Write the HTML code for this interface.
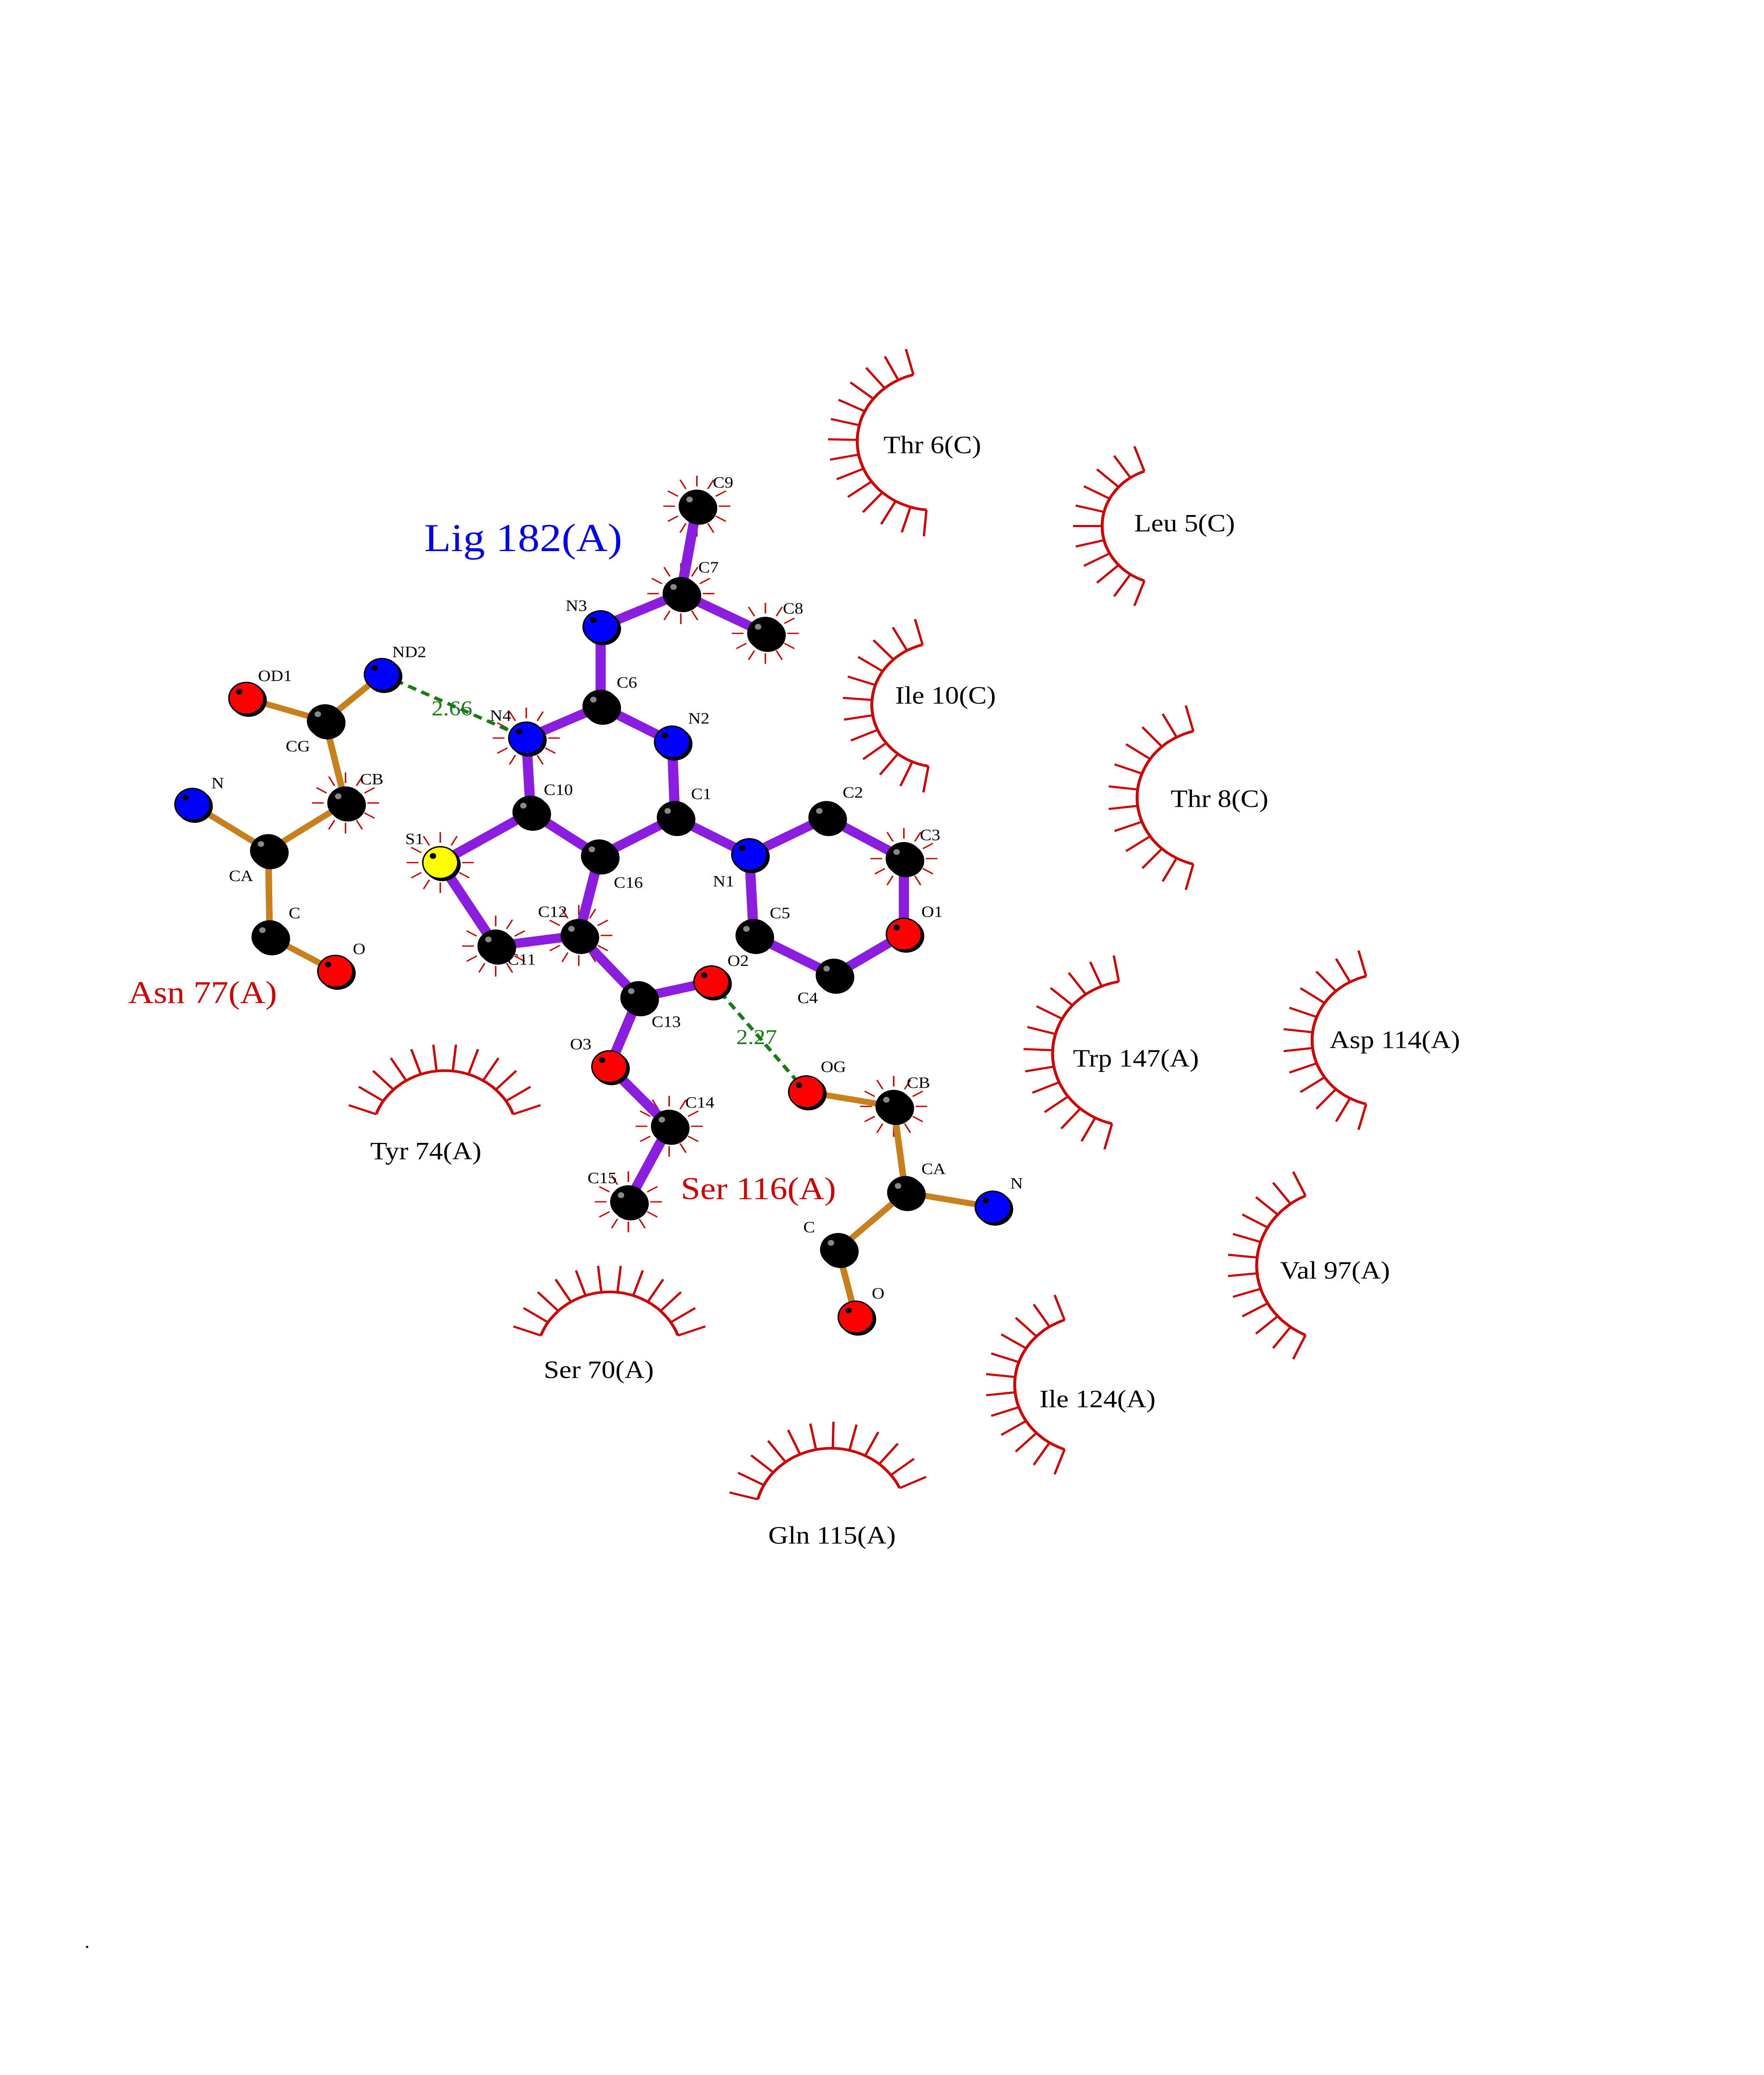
<!DOCTYPE html>
<html><head><meta charset="utf-8"><style>
html,body{margin:0;padding:0;background:#fff;width:100%;height:100%;overflow:hidden}
svg{display:block;position:fixed;left:0;top:0;width:100vw;height:100vh}
text{font-family:"Liberation Serif",serif}
</style></head><body>
<svg id="s" xmlns="http://www.w3.org/2000/svg" viewBox="0 0 1210 1566" preserveAspectRatio="none">
<rect width="1210" height="1566" fill="#fff"/>
<g id="arcs" stroke="#d00000" stroke-width="1.6" fill="none"></g>
<g id="hb" stroke="#1a7a1a" stroke-width="2.5" stroke-dasharray="6,4"></g>
<g id="bonds" stroke-linecap="round"></g>
<g id="atoms"></g>
<g id="labels" font-size="12" fill="#000"></g>
<text x="291" y="416" font-size="30" fill="#0000ee">Lig 182(A)</text>
<text x="88" y="757" font-size="24" fill="#d00000">Asn 77(A)</text>
<text x="467" y="905" font-size="24" fill="#d00000">Ser 116(A)</text>
<text x="296" y="540" font-size="16" fill="#1a7a1a">2.66</text>
<text x="505" y="788" font-size="16" fill="#1a7a1a">2.27</text>
<g font-size="19" fill="#000">
<text x="606" y="342">Thr 6(C)</text>
<text x="778" y="401">Leu 5(C)</text>
<text x="614" y="531">Ile 10(C)</text>
<text x="803" y="609">Thr 8(C)</text>
<text x="736" y="805">Trp 147(A)</text>
<text x="912" y="791">Asp 114(A)</text>
<text x="878" y="965">Val 97(A)</text>
<text x="713" y="1062">Ile 124(A)</text>
<text x="254" y="875">Tyr 74(A)</text>
<text x="373" y="1040">Ser 70(A)</text>
<text x="527" y="1165">Gln 115(A)</text>
</g>
<text x="58" y="1470" font-size="14">.</text>
</svg>
<script>
var NS="http://www.w3.org/2000/svg";
function el(p,t,a){var e=document.createElementNS(NS,t);for(var k in a)e.setAttribute(k,a[k]);document.getElementById(p).appendChild(e);return e;}
var A={C9:[478,382,'k'],C7:[467,448,'k'],C8:[525,478,'k'],N3:[412,473,'b'],C6:[412,533,'k'],N4:[361,557,'b'],N2:[461,560,'b'],C10:[364,613,'k'],C1:[463,617,'k'],C16:[411,646,'k'],S1:[302,651,'y'],N1:[514,645,'b'],C2:[567,617,'k'],C3:[620,648,'k'],O1:[620,705,'r'],C4:[572,736,'k'],C5:[517,706,'k'],C11:[340,714,'k'],C12:[397,706,'k'],C13:[438,753,'k'],O2:[488,741,'r'],O3:[418,805,'r'],C14:[459,850,'k'],C15:[431,907,'k'],
aND2:[262,509,'b'],aOD1:[169,527,'r'],aCG:[223,544,'k'],aCB:[237,606,'k'],aCA:[184,642,'k'],aN:[132,607,'b'],aC:[185,707,'k'],aO:[230,733,'r'],
sOG:[553,824,'r'],sCB:[613,835,'k'],sCA:[621,900,'k'],sN:[681,911,'b'],sC:[575,943,'k'],sO:[587,994,'r']};
var LB=[['C9',489,368],['C7',479,432],['C8',537,463],['N3',388,461],['C6',423,519],['N4',336,544],['N2',472,546],['C10',373,600],['C1',474,603],['C16',421,670],['S1',278,637],['N1',489,669],['C2',578,602],['C3',631,634],['O1',632,692],['C4',547,757],['C5',528,693],['C11',348,728],['C12',369,692],['C13',447,775],['O2',499,729],['O3',391,792],['C14',470,836],['C15',403,893],
['ND2',269,496],['OD1',177,514],['CG',196,567],['CB',247,592],['CA',157,665],['N',145,595],['C',198,693],['O',242,720],['OG',563,809],['CB',622,821],['CA',632,886],['N',693,897],['C',551,930],['O',598,980]];
var LIG=[['C9','C7'],['C7','C8'],['C7','N3'],['N3','C6'],['C6','N4'],['C6','N2'],['N4','C10'],['N2','C1'],['C10','C16'],['C1','C16'],['C10','S1'],['S1','C11'],['C11','C12'],['C12','C16'],['C1','N1'],['N1','C2'],['C2','C3'],['C3','O1'],['O1','C4'],['C4','C5'],['C5','N1'],['C12','C13'],['C13','O2'],['C13','O3'],['O3','C14'],['C14','C15']];
var RES=[['aOD1','aCG'],['aCG','aND2'],['aCG','aCB'],['aCB','aCA'],['aCA','aN'],['aCA','aC'],['aC','aO'],['sOG','sCB'],['sCB','sCA'],['sCA','sN'],['sCA','sC'],['sC','sO']];
LIG.forEach(function(b){var p=A[b[0]],q=A[b[1]];el('bonds','line',{x1:p[0],y1:p[1],x2:q[0],y2:q[1],stroke:'#8a1de0','stroke-width':7});});
RES.forEach(function(b){var p=A[b[0]],q=A[b[1]];el('bonds','line',{x1:p[0],y1:p[1],x2:q[0],y2:q[1],stroke:'#c8801c','stroke-width':4.5});});
[['aND2','N4'],['O2','sOG']].forEach(function(b){var p=A[b[0]],q=A[b[1]];el('hb','line',{x1:p[0],y1:p[1],x2:q[0],y2:q[1]});});
var col={k:'#000',b:'#0000ff',r:'#ff0000',y:'#ffff00'};
for(var n in A){var a=A[n];el('atoms','circle',{cx:a[0]+1.5,cy:a[1]+1.5,r:12.5,fill:'#000'});el('atoms','circle',{cx:a[0],cy:a[1],r:12,fill:col[a[2]],stroke:'#000','stroke-width':1});el('atoms','circle',{cx:a[0]-5,cy:a[1]-5,r:2.2,fill:a[2]=='k'?'#888':'#000'});}
LB.forEach(function(l){var t=el('labels','text',{x:l[1],y:l[2]});t.textContent=l[0];});
function arc(cx,cy,r,a0,a1,n){var d='';var st=(a1-a0)/40;for(var i=0;i<=40;i++){var a=(a0+st*i)*Math.PI/180;d+=(i?'L':'M')+(cx+r*Math.cos(a)).toFixed(1)+','+(cy+r*Math.sin(a)).toFixed(1);}el('arcs','path',{d:d,'stroke-width':2});
for(var j=0;j<n;j++){var a=(a0+(a1-a0)*j/(n-1))*Math.PI/180;el('arcs','line',{x1:cx+r*Math.cos(a),y1:cy+r*Math.sin(a),x2:cx+(r+20)*Math.cos(a),y2:cy+(r+20)*Math.sin(a)});}}
arc(640,333,52,95,255,14);arc(800,397,44,110,250,11);arc(645,532,47,100,255,12);arc(832,602,52,105,255,12);
arc(777,795,55,105,260,13);arc(950,785,50,105,255,12);arc(920,955,58,115,245,12);arc(748,1045,52,110,250,12);
arc(305,858,50,200,340,12);arc(418,1025,50,200,340,12);arc(570,1145,52,195,335,12);
function lash(n,r){var a=A[n];for(var i=0;i<12;i++){var t=i*30*Math.PI/180;el('arcs','line',{x1:a[0]+r*Math.cos(t),y1:a[1]+r*Math.sin(t),x2:a[0]+(r+8)*Math.cos(t),y2:a[1]+(r+8)*Math.sin(t),'stroke-width':1});}}
['C9','C8','aCB','S1','C12','C14','C15','C3','sCB','N4','C7','C11'].forEach(function(n){lash(n,15);});
</script>
</body></html>
